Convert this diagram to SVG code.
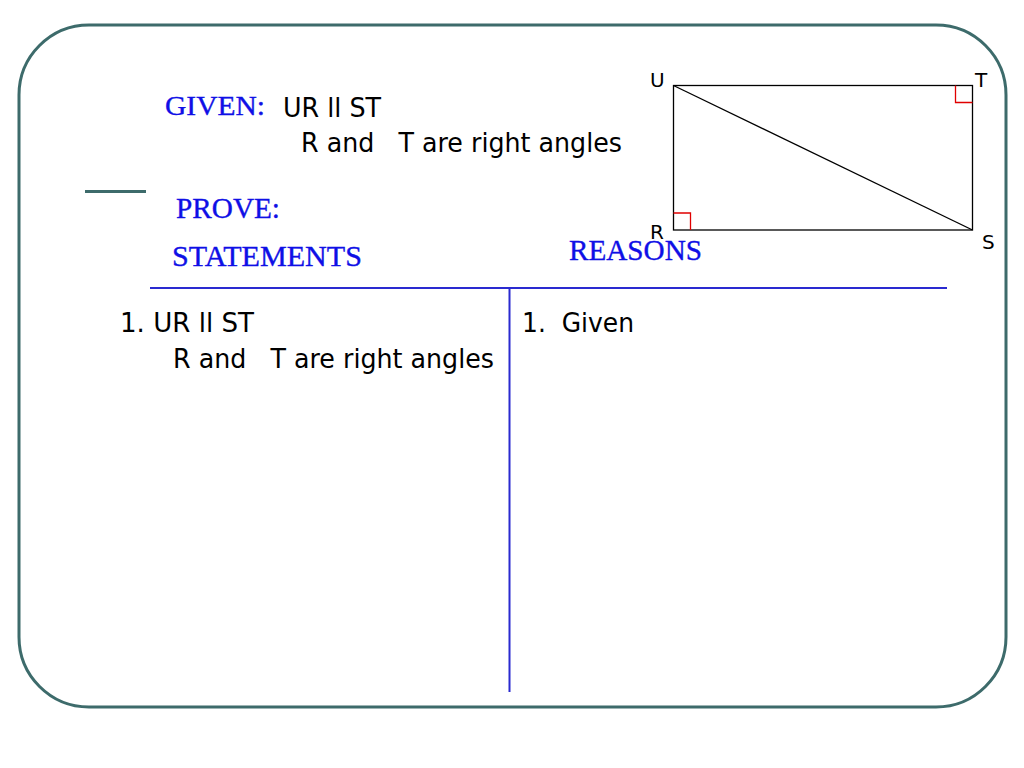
<svg xmlns="http://www.w3.org/2000/svg" width="1024" height="768" viewBox="0 0 1024 768">
<style>
.frame{fill:none;stroke:#3d6b6b;stroke-width:3}
.blue{font-family:"Liberation Serif","Times New Roman",serif;fill:#0f0fe6;stroke:#0f0fe6;stroke-width:0.35}
.sans{font-family:"DejaVu Sans",Verdana,sans-serif;fill:#000;white-space:pre}
.rule{stroke:#2a2ad0;stroke-width:2}
.edge{stroke:#000;stroke-width:1.3;fill:none}
.mark{stroke:#e00000;stroke-width:1.3;fill:none}
</style>
<rect width="1024" height="768" fill="#fff"/>
<rect class="frame" x="19" y="25" width="987" height="682" rx="70" ry="70"/>
<line x1="85" y1="191.5" x2="146" y2="191.5" stroke="#3d6b6b" stroke-width="3"/>

<g id="given">
<text class="blue" x="165" y="115" font-size="27" textLength="100" lengthAdjust="spacingAndGlyphs">GIVEN:</text>
<text class="sans" x="283" y="117" font-size="26" textLength="98" lengthAdjust="spacingAndGlyphs" xml:space="preserve">UR ll ST</text>
<text class="sans" x="301" y="152" font-size="26" textLength="321" lengthAdjust="spacingAndGlyphs" xml:space="preserve">R and   T are right angles</text>
</g>
<g id="prove">
<text class="blue" x="176" y="218" font-size="29" textLength="104" lengthAdjust="spacingAndGlyphs">PROVE:</text>
</g>
<g id="headers">
<text class="blue" x="172" y="266" font-size="29" textLength="190" lengthAdjust="spacingAndGlyphs">STATEMENTS</text>
<text class="blue" x="569" y="260" font-size="29" textLength="133" lengthAdjust="spacingAndGlyphs">REASONS</text>
</g>

<g id="figure">
<rect class="edge" x="673.5" y="85.5" width="299" height="144.5"/>
<line class="edge" x1="673.5" y1="85.5" x2="972.5" y2="230"/>
<polyline class="mark" points="955.5,85.5 955.5,102.5 972.5,102.5"/>
<polyline class="mark" points="673.5,213 690.5,213 690.5,230"/>
<text class="sans" x="650" y="87" font-size="20">U</text>
<text class="sans" x="975" y="87" font-size="20">T</text>
<text class="sans" x="650" y="239" font-size="20">R</text>
<text class="sans" x="982" y="249" font-size="20">S</text>
</g>

<g id="table">
<line class="rule" x1="150" y1="288" x2="947" y2="288"/>
<line class="rule" x1="509.5" y1="288" x2="509.5" y2="692"/>
</g>

<g id="statement1">
<text class="sans" x="120" y="332" font-size="26" textLength="134" lengthAdjust="spacingAndGlyphs" xml:space="preserve">1. UR ll ST</text>
<text class="sans" x="173" y="368" font-size="26" textLength="321" lengthAdjust="spacingAndGlyphs" xml:space="preserve">R and   T are right angles</text>
</g>
<g id="reason1">
<text class="sans" x="522" y="332" font-size="26" textLength="112" lengthAdjust="spacingAndGlyphs" xml:space="preserve">1.  Given</text>
</g>
</svg>
